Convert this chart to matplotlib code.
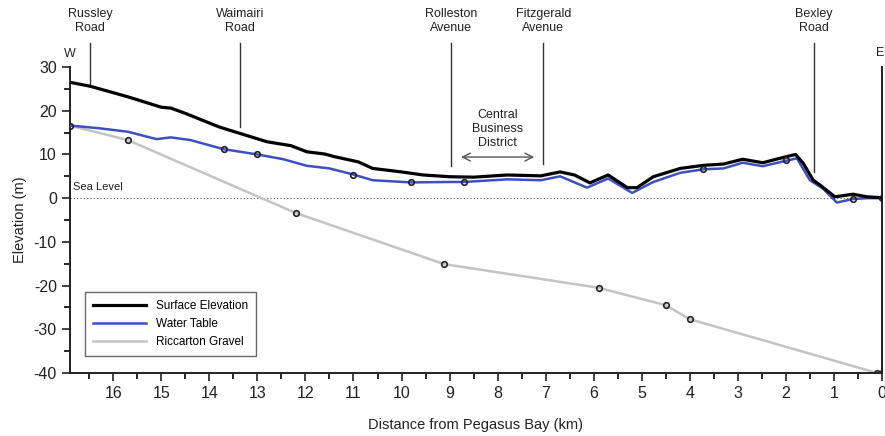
import numpy as np
import matplotlib.pyplot as plt
from matplotlib.ticker import MultipleLocator

plt.rcParams['font.family'] = ['Liberation Sans', 'DejaVu Sans']
plt.rcParams['axes.unicode_minus'] = False

# surface elevation profile (km from Pegasus Bay, m)
surf_km = [16.9, 16.48, 15.7, 15.0, 14.8, 14.5, 13.8, 13.36, 12.8, 12.3, 11.97, 11.6,
           11.4, 10.9, 10.6, 10.0, 9.55, 9.0, 8.5, 7.8, 7.1, 6.7, 6.4, 6.08, 5.7,
           5.3, 5.1, 4.76, 4.2, 3.72, 3.3, 2.9, 2.48, 2.06, 1.8, 1.64, 1.43, 1.29,
           0.98, 0.6, 0.31, 0.0]
surf_m = [26.5, 25.6, 23.2, 20.8, 20.6, 19.4, 16.3, 14.8, 12.9, 12.0, 10.6, 10.1,
          9.5, 8.3, 6.8, 6.0, 5.3, 4.9, 4.8, 5.3, 5.1, 6.0, 5.3, 3.5, 5.3,
          2.4, 2.4, 4.9, 6.8, 7.5, 7.8, 8.9, 8.1, 9.3, 10.0, 8.0, 4.1, 3.0,
          0.3, 0.9, 0.3, 0.1]

# water table
wt_km = [16.9, 16.3, 15.7, 15.1, 14.8, 14.4, 13.7, 13.0, 12.46, 11.97, 11.5, 11.0,
         10.6, 9.8, 9.0, 8.7, 7.8, 7.1, 6.7, 6.14, 5.7, 5.2, 4.76, 4.2, 3.72, 3.3,
         2.9, 2.48, 1.98, 1.77, 1.5, 1.23, 0.94, 0.6, 0.3, 0.0]
wt_m = [16.6, 16.0, 15.2, 13.5, 13.9, 13.3, 11.2, 10.0, 8.9, 7.4, 6.8, 5.4,
        4.1, 3.6, 3.7, 3.7, 4.3, 4.1, 5.0, 2.4, 4.5, 1.2, 3.7, 5.8, 6.6, 6.8,
        8.1, 7.3, 8.6, 9.1, 4.1, 2.2, -1.0, -0.2, 0.0, 0.0]
wt_obs_km = [13.7, 13.0, 11.0, 9.8, 8.7, 3.72, 2.0, 0.6, 0.0]
wt_obs_m = [11.2, 10.0, 5.4, 3.6, 3.7, 6.6, 8.8, -0.2, 0.0]

# Riccarton Gravel top
grav_km = [16.9, 15.7, 12.2, 9.11, 5.9, 4.5, 4.0, 0.1, 0.0]
grav_m = [16.6, 13.3, -3.4, -15.1, -20.5, -24.5, -27.7, -40.0, -40.0]

roads = ['Russley\nRoad', 'Waimairi\nRoad', 'Rolleston\nAvenue', 'Fitzgerald\nAvenue', 'Bexley\nRoad']
road_km = [16.48, 13.36, 8.97, 7.05, 1.42]
road_bottom = [25.8, 16.2, 7.4, 7.8, 6.0]

fig = plt.figure(figsize=(8.85, 4.36), dpi=100)
ax = fig.add_axes([0.0791, 0.1445, 0.9175, 0.7018])

ax.axhline(0, color='#555555', lw=0.8, ls=(0, (1, 2)), zorder=1)
ax.plot(grav_km, grav_m, color='#c4c4c4', lw=1.8, label='Riccarton Gravel', zorder=2)
ax.plot(grav_km, grav_m, ls='none', marker='o', ms=4, mfc='none', mec='#222222', mew=1.2, zorder=5)
ax.plot(wt_km, wt_m, color='#3f4fc2', lw=1.8, label='Water Table', zorder=3)
ax.plot(wt_obs_km, wt_obs_m, ls='none', marker='o', ms=4, mfc='none', mec='#222222', mew=1.2, zorder=5)
ax.plot(surf_km, surf_m, color='black', lw=2.3, label='Surface Elevation', zorder=4)

ax.set_xlim(16.9, 0)
ax.set_ylim(-40, 30)
ax.xaxis.set_major_locator(MultipleLocator(1))
ax.xaxis.set_minor_locator(MultipleLocator(0.5))
ax.yaxis.set_major_locator(MultipleLocator(10))
ax.yaxis.set_minor_locator(MultipleLocator(5))
ax.tick_params(which='major', direction='out', length=6, width=1.2, labelsize=11.5, colors='#222222')
ax.tick_params(which='minor', direction='out', length=4, width=1.2)
ax.spines['top'].set_visible(False)
for s in ['left', 'bottom', 'right']:
    ax.spines[s].set_linewidth(1.4)
    ax.spines[s].set_color('#222222')

ax.set_xlabel('Distance from Pegasus Bay (km)', fontsize=10.5, color='#222222', labelpad=12)
ax.set_ylabel('Elevation (m)', fontsize=10.5, color='#222222', labelpad=5)

for name, k, yb in zip(roads, road_km, road_bottom):
    ax.plot([k, k], [yb, 35.5], color='#333333', lw=1, clip_on=False, zorder=2)
    ax.text(k, 37.6, name, ha='center', va='bottom', fontsize=9, color='#222222',
            linespacing=1.2)

ax.text(16.9, 31.5, 'W', ha='center', va='bottom', fontsize=9, color='#222222')
ax.text(0.04, 31.9, 'E', ha='center', va='bottom', fontsize=9, color='#222222')
ax.text(16.83, 1.3, 'Sea Level', ha='left', va='bottom', fontsize=8, color='#222222')
ax.text(8.0, 15.8, 'Central\nBusiness\nDistrict', ha='center', va='center', fontsize=9,
        color='#222222', linespacing=1.2)
ax.annotate('', xy=(8.82, 9.4), xytext=(7.18, 9.4),
            arrowprops=dict(arrowstyle='<->', color='#555555', lw=1, mutation_scale=14))

leg = ax.legend(handles=[ax.lines[5], ax.lines[3], ax.lines[1]], loc='lower left',
                bbox_to_anchor=(0.011, 0.036), fontsize=8.5, frameon=True, fancybox=False,
                handlelength=4.5, borderpad=0.7, labelspacing=0.5)
leg.get_frame().set_edgecolor('#444444')
leg.get_frame().set_linewidth(1)

fig.savefig('out.png', dpi=100)
